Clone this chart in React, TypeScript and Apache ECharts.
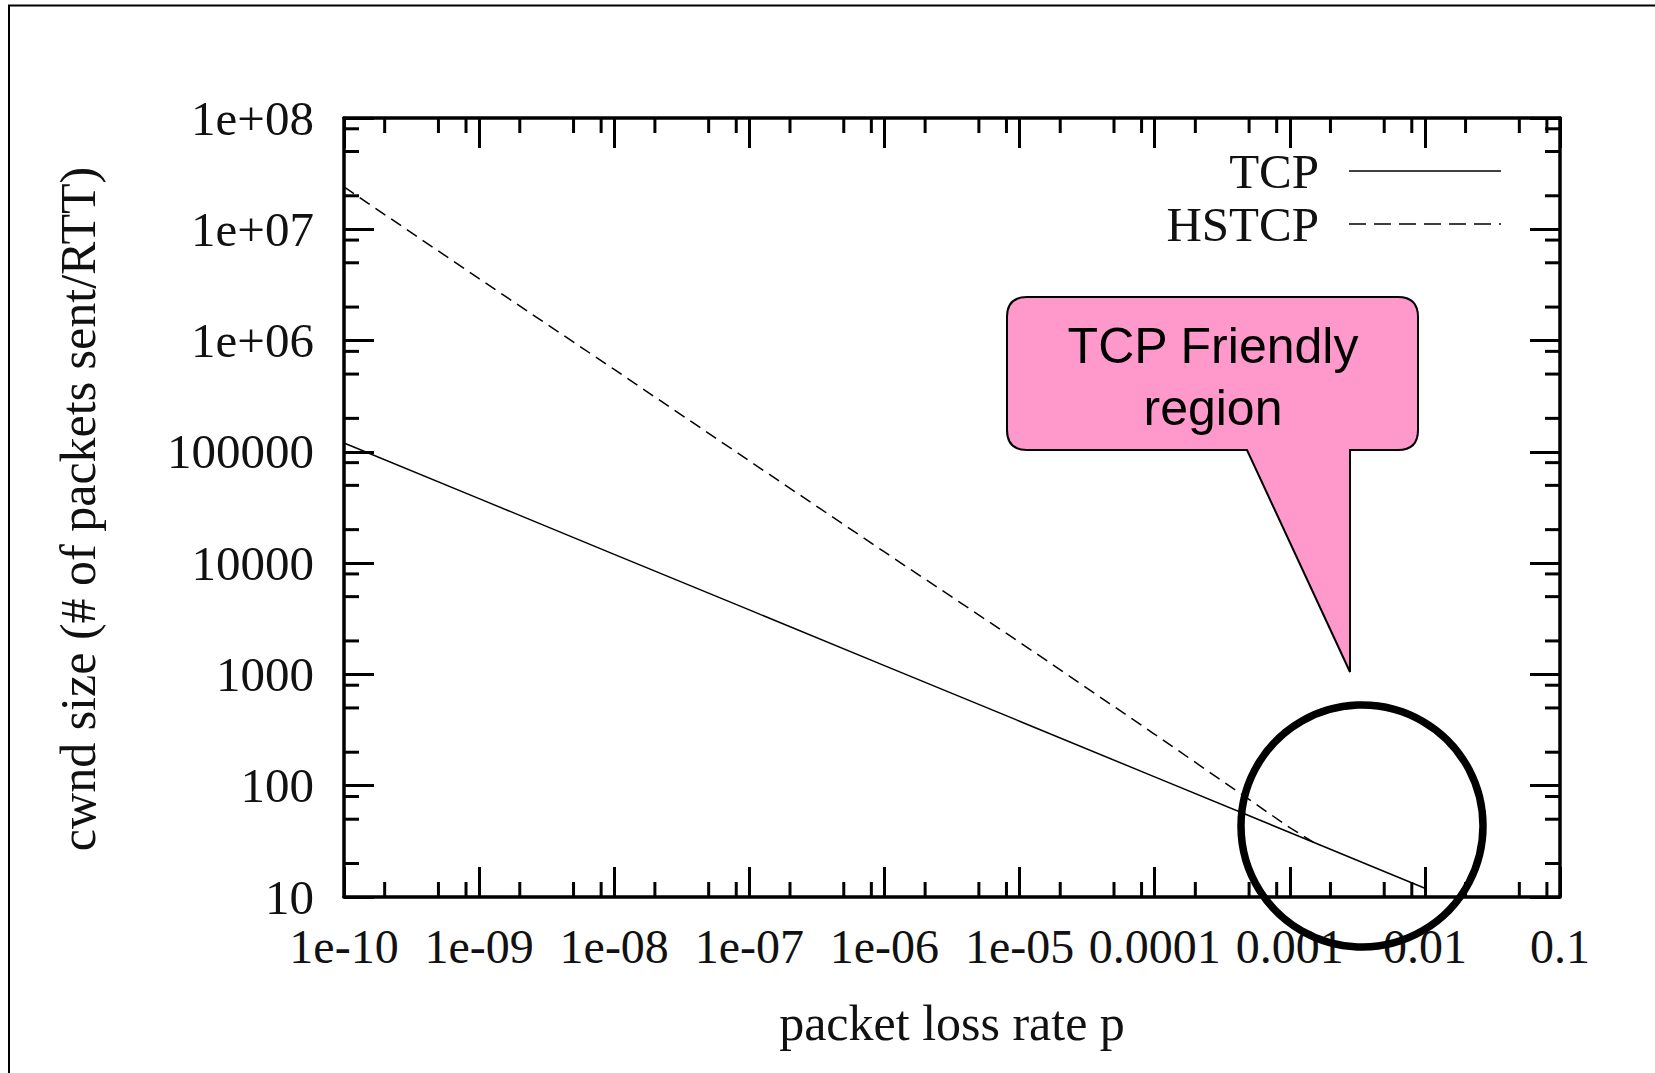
import React, { useEffect, useRef } from "react";
import * as echarts from "echarts";

// ---- data ----
const LOSS_RATE_TCP = [1e-10, 1e-9, 1e-8, 1e-7, 1e-6, 1e-5, 1e-4, 1e-3, 1e-2];
const CWND_TCP = [120000, 38000, 12000, 3800, 1200, 380, 120, 38, 12];

const LOSS_RATE_HSTCP = [1e-10, 1e-9, 1e-8, 1e-7, 1e-6, 1e-5, 1e-4, 1e-3, 1.5e-3];
const CWND_HSTCP = [24000000, 3600000, 550000, 83000, 12600, 1950, 290, 42, 31];

const SERIES_NAMES = ["TCP", "HSTCP"];

const X_TICK_LABELS = ["1e-10", "1e-09", "1e-08", "1e-07", "1e-06", "1e-05", "0.0001", "0.001", "0.01", "0.1"];
const Y_TICK_LABELS = ["10", "100", "1000", "10000", "100000", "1e+06", "1e+07", "1e+08"];

const X_MIN = 1e-10;
const X_MAX = 0.1;
const Y_MIN = 10;
const Y_MAX = 1e8;

const X_DECADES = [-10, -9, -8, -7, -6, -5, -4, -3, -2];
const Y_DECADES = [1, 2, 3, 4, 5, 6, 7];
const MINOR_MULTIPLIERS = [2, 5, 8];

const X_TITLE = "packet loss rate p";
const Y_TITLE = "cwnd size (# of packets sent/RTT)";
const CALLOUT_LINES = ["TCP Friendly", "region"];

// ---- drawing ----
const CALLOUT_D =
  "M 1027 297 L 1398 297 Q 1418 297 1418 317 L 1418 430 Q 1418 450 1398 450 L 1350 450 L 1350 672 L 1247 450 L 1027 450 Q 1007 450 1007 430 L 1007 317 Q 1007 297 1027 297 Z";
echarts.graphic.registerShape("callout", echarts.graphic.extendPath(CALLOUT_D, {}));

const SERIF = '"Liberation Serif", "Times New Roman", serif';
const SANS = '"Liberation Sans", Arial, sans-serif';
const INK = "#111";

export default function App() {
  const ref = useRef<HTMLDivElement>(null);

  useEffect(() => {
    document.body.style.margin = "0";
    if (!ref.current) return;
    const chart = echarts.init(ref.current, undefined, { renderer: "svg" });

    const tcpData = LOSS_RATE_TCP.map((p, i) => [p, CWND_TCP[i]]);
    const hsData = LOSS_RATE_HSTCP.map((p, i) => [p, CWND_HSTCP[i]]);

    const xMinor: number[][] = [];
    X_DECADES.forEach((d) => MINOR_MULTIPLIERS.forEach((m) => xMinor.push([m * Math.pow(10, d), Y_MIN])));
    const yMinor: number[][] = [];
    Y_DECADES.forEach((d) => MINOR_MULTIPLIERS.forEach((m) => yMinor.push([X_MIN, m * Math.pow(10, d)])));

    const MINOR_LEN = 15;
    const tickStyle = { stroke: "#000", lineWidth: 3 };

    const axisCommon = {
      type: "log" as const,
      logBase: 10,
      axisLine: { show: true, lineStyle: { color: "#000", width: 3.5 } },
      axisTick: { show: true, inside: true, length: 30, lineStyle: { color: "#000", width: 3 } },
      splitLine: { show: false },
      minorTick: { show: false },
    };

    const textStyle = (text: string, family: string, size: number, align: string) => ({
      text,
      fontFamily: family,
      fontSize: size,
      fill: INK,
      align,
      verticalAlign: "middle",
      textAlign: align,
      textVerticalAlign: "middle",
    });

    chart.setOption({
      animation: false,
      backgroundColor: "#fff",
      grid: { left: 344, top: 118, width: 1216, height: 779, containLabel: false },
      xAxis: [
        {
          ...axisCommon,
          position: "bottom",
          min: X_MIN,
          max: X_MAX,
          axisLabel: {
            show: true,
            margin: 25,
            fontFamily: SERIF,
            fontSize: 48,
            color: INK,
            formatter: (v: number) => X_TICK_LABELS[Math.round(Math.log10(v)) + 10] ?? "",
          },
        },
        {
          ...axisCommon,
          position: "top",
          min: X_MIN,
          max: X_MAX,
          axisLabel: { show: false },
        },
      ],
      yAxis: [
        {
          ...axisCommon,
          position: "left",
          min: Y_MIN,
          max: Y_MAX,
          axisLabel: {
            show: true,
            margin: 30,
            fontFamily: SERIF,
            fontSize: 49,
            color: INK,
            formatter: (v: number) => Y_TICK_LABELS[Math.round(Math.log10(v)) - 1] ?? "",
          },
        },
        {
          ...axisCommon,
          position: "right",
          min: Y_MIN,
          max: Y_MAX,
          axisLabel: { show: false },
        },
      ],
      series: [
        {
          name: SERIES_NAMES[0],
          type: "line",
          data: tcpData,
          symbol: "none",
          lineStyle: { color: "#000", width: 1.5 },
          z: 3,
        },
        {
          name: SERIES_NAMES[1],
          type: "line",
          data: hsData,
          symbol: "none",
          lineStyle: { color: "#000", width: 1.5, type: [12, 7] },
          z: 3,
        },
        {
          type: "custom",
          silent: true,
          data: xMinor,
          renderItem: (_p: any, api: any) => {
            const x = api.value(0);
            const b = api.coord([x, Y_MIN]);
            const t = api.coord([x, Y_MAX]);
            return {
              type: "group",
              children: [
                { type: "line", shape: { x1: b[0], y1: b[1], x2: b[0], y2: b[1] - MINOR_LEN }, style: tickStyle },
                { type: "line", shape: { x1: t[0], y1: t[1], x2: t[0], y2: t[1] + MINOR_LEN }, style: tickStyle },
              ],
            };
          },
        },
        {
          type: "custom",
          silent: true,
          data: yMinor,
          renderItem: (_p: any, api: any) => {
            const y = api.value(1);
            const l = api.coord([X_MIN, y]);
            const r = api.coord([X_MAX, y]);
            return {
              type: "group",
              children: [
                { type: "line", shape: { x1: l[0], y1: l[1], x2: l[0] + MINOR_LEN, y2: l[1] }, style: tickStyle },
                { type: "line", shape: { x1: r[0], y1: r[1], x2: r[0] - MINOR_LEN, y2: r[1] }, style: tickStyle },
              ],
            };
          },
        },
      ],
      graphic: [
        {
          type: "rect",
          z: 0,
          shape: { x: 9, y: 5.5, width: 1700, height: 1100 },
          style: { fill: "none", stroke: "#000", lineWidth: 2 },
        },
        { type: "text", z: 10, x: 952, y: 1023, style: textStyle(X_TITLE, SERIF, 50, "center") },
        { type: "text", z: 10, x: 78, y: 509, rotation: Math.PI / 2, style: textStyle(Y_TITLE, SERIF, 50, "center") },
        // legend
        { type: "text", z: 10, x: 1319, y: 171, style: textStyle(SERIES_NAMES[0], SERIF, 49, "right") },
        { type: "text", z: 10, x: 1319, y: 224, style: textStyle(SERIES_NAMES[1], SERIF, 49, "right") },
        {
          type: "line",
          z: 10,
          shape: { x1: 1349, y1: 171, x2: 1501, y2: 171 },
          style: { stroke: "#000", lineWidth: 1.5 },
        },
        {
          type: "line",
          z: 10,
          shape: { x1: 1349, y1: 224, x2: 1501, y2: 224 },
          style: { stroke: "#000", lineWidth: 1.5, lineDash: [17, 8] },
        },
        // callout
        {
          type: "callout",
          z: 20,
          x: 0,
          y: 0,
          style: { fill: "#ff99cc", stroke: "#000", lineWidth: 2 },
        },
        {
          type: "text",
          z: 21,
          x: 1213,
          y: 346,
          style: { ...textStyle(CALLOUT_LINES[0], SANS, 50, "center"), fill: "#000" },
        },
        {
          type: "text",
          z: 21,
          x: 1213,
          y: 408,
          style: { ...textStyle(CALLOUT_LINES[1], SANS, 50, "center"), fill: "#000" },
        },
        // highlight circle
        {
          type: "circle",
          z: 30,
          shape: { cx: 1362, cy: 826, r: 121 },
          style: { fill: "none", stroke: "#000", lineWidth: 7.5 },
        },
      ],
    });

    return () => chart.dispose();
  }, []);

  return <div ref={ref} style={{ width: 1655, height: 1073 }} />;
}
